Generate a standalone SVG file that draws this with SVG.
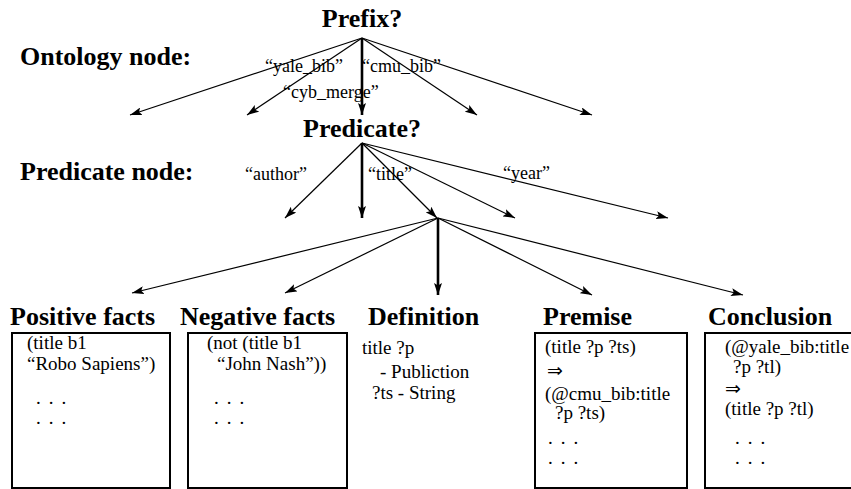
<svg xmlns="http://www.w3.org/2000/svg" width="851" height="489" viewBox="0 0 851 489">
<style>
.h{font-family:"Liberation Serif",serif;font-weight:bold;font-size:26px;fill:#000}
.lb{font-family:"Liberation Serif",serif;font-size:18px;fill:#000}
.t{font-family:"Liberation Serif",serif;font-size:19px;fill:#000}
.d{font-family:"Liberation Serif",serif;font-size:19px;fill:#000;letter-spacing:1.6px}
.e{stroke:#000;stroke-width:1.2;fill:none;marker-end:url(#ah)}
.k{stroke:#000;stroke-width:2.6;fill:none;marker-end:url(#ah)}
.box{fill:#fff;stroke:#000;stroke-width:2}
</style>
<defs>
<marker id="ah" markerUnits="userSpaceOnUse" markerWidth="13" markerHeight="8" refX="12" refY="4" orient="auto">
<path d="M0,0 L12,4 L0,8 L2.5,4 z" fill="#000"/>
</marker>
</defs>
<rect width="851" height="489" fill="#fff"/>

<g id="connectors">
<line class="e" x1="362" y1="38" x2="130" y2="115"/>
<line class="e" x1="362" y1="38" x2="247" y2="115"/>
<line class="k" x1="362" y1="38" x2="362" y2="115"/>
<line class="e" x1="362" y1="38" x2="477" y2="115"/>
<line class="e" x1="362" y1="38" x2="592" y2="115"/>
<line class="e" x1="362" y1="143" x2="285" y2="218"/>
<line class="k" x1="362" y1="143" x2="362" y2="218"/>
<line class="e" x1="362" y1="143" x2="437" y2="218"/>
<line class="e" x1="362" y1="143" x2="515" y2="218"/>
<line class="e" x1="362" y1="143" x2="668" y2="218"/>
<line class="e" x1="438" y1="218" x2="132" y2="293"/>
<line class="e" x1="438" y1="218" x2="285" y2="293"/>
<line class="k" x1="438" y1="218" x2="438" y2="295"/>
<line class="e" x1="438" y1="218" x2="592" y2="295"/>
<line class="e" x1="438" y1="218" x2="743" y2="295"/>
</g>

<g id="edge-labels">
<text class="lb" x="265" y="72">“yale_bib”</text>
<text class="lb" x="362" y="72">“cmu_bib”</text>
<text class="lb" x="283" y="98">“cyb_merge”</text>
<text class="lb" x="245" y="180">“author”</text>
<text class="lb" x="368" y="180">“title”</text>
<text class="lb" x="503" y="179">“year”</text>
</g>

<g id="prefix">
<text class="h" x="362" y="27" text-anchor="middle">Prefix?</text>
</g>
<g id="ontology-label">
<text class="h" x="20" y="65">Ontology node:</text>
</g>
<g id="predicate">
<text class="h" x="362" y="137" text-anchor="middle">Predicate?</text>
</g>
<g id="predicate-label">
<text class="h" x="20" y="180">Predicate node:</text>
</g>

<g id="positive-facts">
<text class="h" x="10" y="325">Positive facts</text>
<rect class="box" x="12" y="333" width="158" height="155"/>
<text class="t" x="27" y="349">(title b1</text>
<text class="t" x="27" y="370">“Robo Sapiens”)</text>
<text class="d" x="36" y="404">. . .</text>
<text class="d" x="36" y="424">. . .</text>
</g>

<g id="negative-facts">
<text class="h" x="180" y="325">Negative facts</text>
<rect class="box" x="188" y="333" width="159" height="155"/>
<text class="t" x="207" y="349">(not (title b1</text>
<text class="t" x="217" y="370">“John Nash”))</text>
<text class="d" x="214" y="404">. . .</text>
<text class="d" x="214" y="424">. . .</text>
</g>

<g id="definition">
<text class="h" x="368" y="325">Definition</text>
<text class="t" x="362" y="354">title ?p</text>
<text class="t" x="380" y="378">- Publiction</text>
<text class="t" x="372" y="399">?ts - String</text>
</g>

<g id="premise">
<text class="h" x="543" y="325">Premise</text>
<rect class="box" x="535" y="333" width="152" height="155"/>
<text class="t" x="545" y="353">(title ?p ?ts)</text>
<text class="t" x="547" y="377">⇒</text>
<text class="t" x="545" y="400">(@cmu_bib:title</text>
<text class="t" x="555" y="419">?p ?ts)</text>
<text class="d" x="548" y="444">. . .</text>
<text class="d" x="548" y="464">. . .</text>
</g>

<g id="conclusion">
<text class="h" x="708" y="325">Conclusion</text>
<rect class="box" x="705" y="333" width="160" height="155"/>
<text class="t" x="725" y="353">(@yale_bib:title</text>
<text class="t" x="733" y="373">?p ?tl)</text>
<text class="t" x="725" y="395">⇒</text>
<text class="t" x="725" y="415">(title ?p ?tl)</text>
<text class="d" x="735" y="444">. . .</text>
<text class="d" x="735" y="464">. . .</text>
</g>
</svg>
